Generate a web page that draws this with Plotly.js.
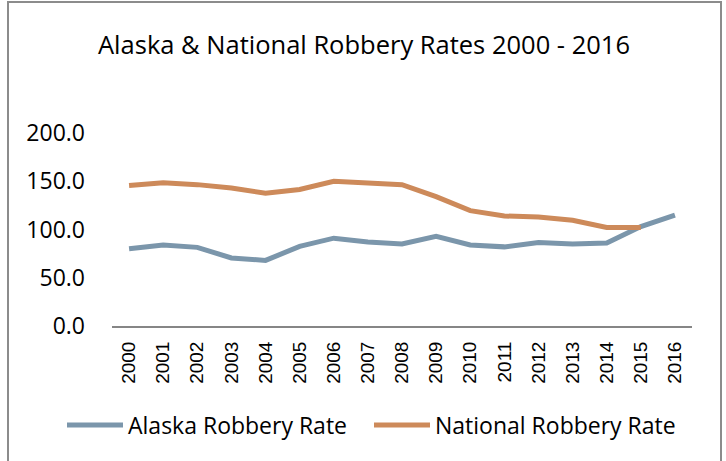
<!DOCTYPE html>
<html>
<head>
<meta charset="utf-8">
<script src="https://cdn.plot.ly/plotly-3.0.1.min.js"></script>
<style>html,body{margin:0;padding:0;background:#fff;}#chart{width:726px;height:461px;}</style>
</head>
<body>
<div id="chart"></div>
<script>
const years = ["2000","2001","2002","2003","2004","2005","2006","2007","2008","2009","2010","2011","2012","2013","2014","2015","2016"];
const alaskaRate = [80.0, 84.0, 81.5, 70.5, 68.0, 82.5, 91.0, 87.0, 85.0, 93.0, 84.0, 82.0, 86.5, 85.0, 86.0, 103.0, 115.0];
const nationalRate = [145.5, 148.5, 146.5, 143.0, 137.5, 141.5, 150.0, 148.5, 146.5, 134.0, 119.5, 114.0, 113.0, 109.5, 102.0, 102.0, null];
const seriesNames = ["Alaska Robbery Rate", "National Robbery Rate"];
const yTicks = [0, 50, 100, 150, 200];

const FONT = "'Open Sans', 'Noto Sans', sans-serif";
const ARIAL = "'Liberation Sans', Arial, sans-serif";
const WIDTH = 726, T = 133, B = 135;
const H = 461 - T - B;
const PLOT_L = 112, PLOT_R = 692;

const traces = [
  {x: years, y: alaskaRate, name: seriesNames[0], type: 'scatter', mode: 'lines',
   line: {color: '#7b96ab', width: 5}},
  {x: years, y: nationalRate, name: seriesNames[1], type: 'scatter', mode: 'lines',
   line: {color: '#cd8a5a', width: 5}}
];

const layout = {
  width: WIDTH, height: 461,
  margin: {l: 0, r: 0, t: T, b: B},
  paper_bgcolor: '#fff', plot_bgcolor: '#fff',
  font: {family: FONT, color: '#000'},
  title: {text: 'Alaska &amp; National Robbery Rates 2000 - 2016', font: {size: 25.5, family: FONT, color: '#000'},
          x: 364 / 726, xanchor: 'center', xref: 'container', y: 1 - 45 / 461, yanchor: 'middle', yref: 'container'},
  showlegend: true,
  legend: {orientation: 'h', x: 62 / 726, xanchor: 'left', xref: 'container', y: 1 - 425 / 461, yanchor: 'middle', yref: 'container',
           font: {size: 23, family: FONT}, traceorder: 'normal', itemsizing: 'constant', tracegroupgap: 0,
           itemwidth: 56, entrywidth: 236, entrywidthmode: 'pixels'},
  xaxis: {type: 'category', range: [-0.5, 16.5], domain: [PLOT_L / WIDTH, PLOT_R / WIDTH],
          showgrid: false, zeroline: false, showline: true, linecolor: '#868686', linewidth: 2,
          tickangle: -90, tickfont: {size: 19, family: ARIAL}, ticks: '', ticklabelstandoff: 6, fixedrange: true},
  yaxis: {range: [0, 200], tickvals: yTicks, ticktext: yTicks.map(v => v.toFixed(1)), showgrid: false, zeroline: false,
          showline: false, ticks: '', tickfont: {size: 23, family: FONT}, ticklabelstandoff: 26, fixedrange: true},
  shapes: [{type: 'rect', xref: 'paper', yref: 'paper',
            x0: 8 / WIDTH, x1: 721 / WIDTH, y0: (326 - 470) / H, y1: (326 - 2) / H,
            line: {color: '#8c8c8c', width: 2}, fillcolor: 'rgba(0,0,0,0)', layer: 'below'}]
};

Plotly.newPlot('chart', traces, layout, {displayModeBar: false, staticPlot: true});
</script>
</body>
</html>
